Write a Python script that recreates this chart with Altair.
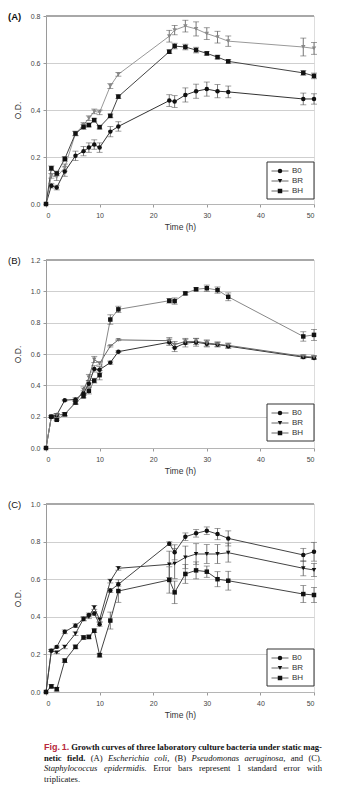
import altair as alt
import pandas as pd

SANS = "Liberation Sans"
SERIF = "Liberation Serif"

TIME = [0, 1, 2, 3.5, 5.5, 7, 8, 9, 10, 12, 13.5, 23, 24, 26, 28, 30, 32, 34, 48, 50]
SERIES = ["B0", "BR", "BH"]
SHAPES = ["circle", "triangle-down", "square"]
X_TICKS = [0, 10, 20, 30, 40, 50]

# (A) Escherichia coli
A_B0 = [0, 0.078, 0.070, 0.138, 0.205, 0.225, 0.240, 0.253, 0.240, 0.308, 0.330, 0.440, 0.436, 0.464, 0.480, 0.489, 0.480, 0.477, 0.447, 0.447]
A_BR = [0, 0.120, 0.115, 0.155, 0.300, 0.336, 0.365, 0.394, 0.390, 0.502, 0.552, 0.714, 0.740, 0.757, 0.745, 0.725, 0.710, 0.693, 0.668, 0.662]
A_BH = [0, 0.152, 0.130, 0.192, 0.300, 0.328, 0.336, 0.357, 0.327, 0.375, 0.457, 0.648, 0.672, 0.668, 0.655, 0.641, 0.625, 0.607, 0.558, 0.545]
A_B0_SE = [0, 0.010, 0.010, 0.020, 0.020, 0.020, 0.020, 0.020, 0.020, 0.022, 0.020, 0.025, 0.025, 0.030, 0.030, 0.030, 0.028, 0.025, 0.025, 0.022]
A_BR_SE = [0, 0.010, 0.015, 0.015, 0.010, 0.010, 0.010, 0.010, 0.010, 0.010, 0.008, 0.025, 0.020, 0.025, 0.030, 0.025, 0.025, 0.022, 0.038, 0.025]
A_BH_SE = [0, 0.010, 0.010, 0.010, 0.008, 0.010, 0.008, 0.008, 0.008, 0.008, 0.008, 0.008, 0.012, 0.012, 0.012, 0.008, 0.008, 0.008, 0.010, 0.012]

# (B) Pseudomonas aeruginosa
B_B0 = [0, 0.200, 0.210, 0.305, 0.310, 0.350, 0.410, 0.505, 0.500, 0.545, 0.615, 0.675, 0.640, 0.670, 0.675, 0.665, 0.660, 0.650, 0.580, 0.575]
B_BR = [0, 0.200, 0.210, 0.215, 0.290, 0.370, 0.450, 0.565, 0.540, 0.650, 0.690, 0.685, 0.660, 0.680, 0.680, 0.670, 0.662, 0.655, 0.585, 0.580]
B_BH = [0, 0.200, 0.180, 0.215, 0.290, 0.330, 0.365, 0.430, 0.465, 0.820, 0.885, 0.940, 0.938, 0.987, 1.013, 1.020, 1.008, 0.965, 0.712, 0.722]
B_B0_SE = [0, 0.005, 0.010, 0.005, 0.010, 0.015, 0.020, 0.020, 0.020, 0.010, 0.005, 0.020, 0.025, 0.025, 0.025, 0.020, 0.015, 0.015, 0.010, 0.010]
B_BR_SE = [0, 0.005, 0.010, 0.010, 0.010, 0.020, 0.020, 0.020, 0.010, 0.005, 0.005, 0.020, 0.020, 0.020, 0.020, 0.020, 0.015, 0.015, 0.010, 0.010]
B_BH_SE = [0, 0.005, 0.005, 0.010, 0.010, 0.010, 0.020, 0.015, 0.030, 0.030, 0.020, 0.015, 0.020, 0.010, 0.010, 0.020, 0.020, 0.025, 0.030, 0.035]

# (C) Staphylococcus epidermidis
C_B0 = [0, 0.220, 0.240, 0.320, 0.353, 0.388, 0.410, 0.418, 0.360, 0.540, 0.573, 0.789, 0.743, 0.826, 0.844, 0.858, 0.840, 0.817, 0.729, 0.746]
C_BR = [0, 0.220, 0.210, 0.240, 0.310, 0.390, 0.400, 0.450, 0.385, 0.590, 0.658, 0.679, 0.683, 0.716, 0.734, 0.734, 0.734, 0.741, 0.658, 0.649]
C_BH = [0, 0.030, 0.015, 0.167, 0.240, 0.290, 0.293, 0.326, 0.196, 0.380, 0.537, 0.596, 0.530, 0.628, 0.647, 0.640, 0.600, 0.592, 0.521, 0.516]
C_B0_SE = [0, 0.005, 0.005, 0.010, 0.010, 0.010, 0.010, 0.010, 0.010, 0.010, 0.010, 0.010, 0.040, 0.020, 0.020, 0.020, 0.030, 0.040, 0.035, 0.050]
C_BR_SE = [0, 0.005, 0.005, 0.010, 0.010, 0.010, 0.010, 0.010, 0.010, 0.010, 0.010, 0.070, 0.080, 0.060, 0.055, 0.050, 0.050, 0.050, 0.040, 0.035]
C_BH_SE = [0, 0.010, 0.010, 0.010, 0.010, 0.010, 0.010, 0.010, 0.010, 0.045, 0.060, 0.070, 0.060, 0.050, 0.045, 0.030, 0.040, 0.050, 0.045, 0.040]

CAPTION = [
    [("Fig. 1.", "red"), ("Growth curves of three laboratory culture bacteria under static mag-", "bold")],
    [("netic field.", "bold"), ("(A)", "roman"), ("Escherichia coli,", "italic"), ("(B)", "roman"),
     ("Pseudomonas aeruginosa,", "italic"), ("and (C).", "roman")],
    [("Staphylococcus epidermidis.", "italic"), ("Error bars represent 1 standard error with", "roman")],
    [("triplicates.", "roman")],
]

W, H = 268, 188

# approximate glyph advance widths (per em) for width estimation / justification
_ROMAN = dict(a=.444, b=.5, c=.444, d=.5, e=.444, f=.333, g=.5, h=.5, i=.278, j=.278, k=.5, l=.278,
              m=.778, n=.5, o=.5, p=.5, q=.5, r=.333, s=.389, t=.278, u=.5, v=.5, w=.722, x=.5,
              y=.5, z=.444, A=.722, B=.667, C=.667, E=.611)
_ITALIC = dict(a=.5, b=.5, c=.444, d=.5, e=.444, f=.278, g=.5, h=.5, i=.278, l=.278, m=.722, n=.5,
               o=.5, p=.5, r=.389, s=.389, t=.278, u=.5, y=.444, E=.611, P=.611, S=.5)
_BOLD = dict(a=.5, b=.556, c=.444, d=.556, e=.444, f=.333, g=.5, h=.556, i=.278, l=.278, m=.833,
             n=.556, o=.5, r=.444, s=.389, t=.333, u=.556, v=.5, w=.722, y=.5, G=.778)
_SANSB = {"F": .611, "i": .278, "g": .611, "1": .556}
_PUNCT = {".": .25, ",": .25, "(": .333, ")": .333, "-": .333, "1": .5}
FS_SERIF = 8.6
FS_RED = 9.0


def style_props(style):
    if style == "red":
        return dict(font=SANS, fontWeight="bold", fontStyle="normal", color="#b8283c", fontSize=FS_RED)
    if style == "bold":
        return dict(font=SERIF, fontWeight="bold", fontStyle="normal", color="#111", fontSize=FS_SERIF)
    if style == "italic":
        return dict(font=SERIF, fontWeight="normal", fontStyle="italic", color="#111", fontSize=FS_SERIF)
    return dict(font=SERIF, fontWeight="normal", fontStyle="normal", color="#111", fontSize=FS_SERIF)


def word_width(word, style):
    table = {"red": _SANSB, "bold": _BOLD, "italic": _ITALIC}.get(style, _ROMAN)
    size = FS_RED if style == "red" else FS_SERIF
    tot = 0.0
    for ch in word:
        if style == "red" and ch == ".":
            tot += .278
        elif ch in table:
            tot += table[ch]
        elif ch in _PUNCT:
            tot += _PUNCT[ch]
        else:
            tot += .5
    return tot * size


one = pd.DataFrame({"k": [0]})


def text_layer(txt, x, y, size, font, weight="normal", style="normal", color="#111", align="left"):
    return alt.Chart(one).mark_text(
        text=txt, align=align, baseline="middle", fontSize=size, font=font,
        fontWeight=weight, fontStyle=style, color=color
    ).encode(x=alt.value(x), y=alt.value(y))


def caption_layers(x0, x1, y0, dy):
    out = []
    for li, segs in enumerate(CAPTION):
        words = [(w, st) for txt, st in segs for w in txt.split(" ")]
        widths = [word_width(w, st) for w, st in words]
        space = 0.25 * FS_SERIF
        natural = sum(widths) + space * (len(words) - 1)
        last = li == len(CAPTION) - 1
        gap = space if (last or len(words) < 2) else space + ((x1 - x0) - natural) / (len(words) - 1)
        x = x0
        for (w, st), wd in zip(words, widths):
            p = style_props(st)
            out.append(text_layer(w, x, y0 + li * dy, p["fontSize"], p["font"], weight=p["fontWeight"],
                                  style=p["fontStyle"], color=p["color"]))
            x += wd + gap
    return out


def build_df(vals, errs):
    rows = []
    for s, v_list, e_list in zip(SERIES, vals, errs):
        for t, v, e in zip(TIME, v_list, e_list):
            rows.append({"t": t, "series": s, "od": v, "lo": v - e, "hi": v + e})
    return pd.DataFrame(rows)


def legend_layers(ly, marker_fill):
    lay = [alt.Chart(one).mark_rect(fill="white", stroke="#333", strokeWidth=1).encode(
        x=alt.value(221), x2=alt.value(268), y=alt.value(ly), y2=alt.value(ly + 37))]
    for i, s in enumerate(SERIES):
        ry = ly + 9 + i * 10
        lay.append(alt.Chart(one).mark_rule(color="#666", strokeWidth=1).encode(
            x=alt.value(225.5), x2=alt.value(242.5), y=alt.value(ry)))
        lay.append(alt.Chart(one).mark_point(shape=SHAPES[i], filled=True, size=20, opacity=1,
                                             fill=marker_fill[i]).encode(
            x=alt.value(234), y=alt.value(ry)))
        lay.append(text_layer(s, 246, ry, 8, SANS, color="#333"))
    return lay


def panel(df, ymax, ystep, tag, tag_bold, line_colors, fill_colors, leg_y, extra=None):
    yticks = [round(i * ystep, 2) for i in range(int(round(ymax / ystep)) + 1)]
    xs = alt.Scale(domain=[0, 50], nice=False, zero=False)
    ys = alt.Scale(domain=[0, ymax], nice=False)
    xaxis = alt.Axis(values=X_TICKS, title="Time (h)", grid=False, domainColor="#b5b5b5",
                     tickColor="#9a9a9a", tickSize=3, labelFontSize=7, labelColor="#444",
                     labelPadding=4, labelFont=SANS, titleFont=SANS, titleFontSize=8.5,
                     titleFontWeight="normal", titleColor="#333", titlePadding=4)
    yaxis = alt.Axis(values=yticks, format=".1f", title="O.D.", grid=True, gridColor="#cfcfcf",
                     domainColor="#9a9a9a", tickColor="#9a9a9a", tickSize=3, labelFontSize=7,
                     labelColor="#444", labelPadding=3, labelFont=SANS, titleFont=SANS,
                     titleFontSize=8.5, titleFontWeight="normal", titleColor="#333",
                     titlePadding=8)
    X = alt.X("t:Q", scale=xs, axis=xaxis)
    base = alt.Chart(df)
    lines = base.mark_line(strokeWidth=1).encode(
        x=X, y=alt.Y("od:Q", scale=ys, axis=yaxis),
        color=alt.Color("series:N", scale=alt.Scale(domain=SERIES, range=line_colors), legend=None),
    )
    eb = base.transform_filter("datum.hi > datum.lo")
    rules = eb.mark_rule(color="#555", strokeWidth=0.8).encode(
        x=X, y=alt.Y("lo:Q", scale=ys, axis=yaxis), y2="hi:Q")
    cap_lo = eb.mark_tick(orient="horizontal", size=6, thickness=0.8, color="#555").encode(
        x=X, y=alt.Y("lo:Q", scale=ys, axis=yaxis))
    cap_hi = eb.mark_tick(orient="horizontal", size=6, thickness=0.8, color="#555").encode(
        x=X, y=alt.Y("hi:Q", scale=ys, axis=yaxis))
    pts = base.mark_point(filled=True, size=20, opacity=1).encode(
        x=X, y=alt.Y("od:Q", scale=ys, axis=yaxis),
        shape=alt.Shape("series:N", scale=alt.Scale(domain=SERIES, range=SHAPES), legend=None),
        fill=alt.Fill("series:N", scale=alt.Scale(domain=SERIES, range=fill_colors), legend=None),
    )
    top = alt.Chart(one).mark_rule(color="#a8a8a8", strokeWidth=2).encode(
        x=alt.value(0), x2=alt.value(W), y=alt.value(0))
    label = text_layer(tag, -38, 1, 9.5, SANS, weight=tag_bold)
    layers = [lines, rules, cap_lo, cap_hi, pts, top, label] + legend_layers(leg_y, ["#111", "#111", "#111"])
    if extra:
        layers += extra
    return alt.layer(*layers).resolve_scale(shape="independent", fill="independent",
                                            color="independent").properties(width=W, height=H)


dfA = build_df([A_B0, A_BR, A_BH], [A_B0_SE, A_BR_SE, A_BH_SE])
dfB = build_df([B_B0, B_BR, B_BH], [B_B0_SE, B_BR_SE, B_BH_SE])
dfC = build_df([C_B0, C_BR, C_BH], [C_B0_SE, C_BR_SE, C_BH_SE])

caption = caption_layers(-2, 276, 243, 10.5)

pA = panel(dfA, 0.8, 0.2, "(A)", "bold", ["#333", "#999", "#444"], ["#111", "#888", "#111"], 146)
pB = panel(dfB, 1.2, 0.2, "(B)", "normal", ["#333", "#666", "#888"], ["#111", "#777", "#111"], 144)
pC = panel(dfC, 1.0, 0.2, "(C)", "normal", ["#444", "#444", "#444"], ["#111", "#111", "#111"], 145, caption)

chart = alt.vconcat(pA, pB, pC, spacing=56, bounds="flush").properties(
    padding={"left": 7, "top": 11, "right": 0, "bottom": 0}
).configure_view(stroke=None).configure(background="white")

chart.save("out.html", embed_options={"renderer": "svg", "actions": False})
